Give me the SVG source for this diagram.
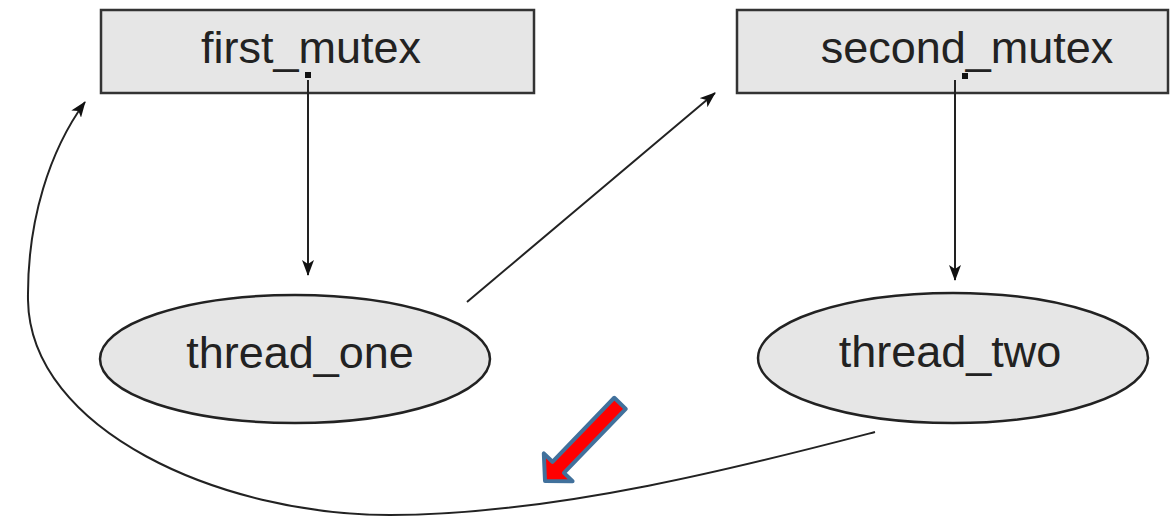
<svg xmlns="http://www.w3.org/2000/svg" width="1174" height="516" viewBox="0 0 1174 516">
  <style>
    .box { fill: #e6e6e6; stroke: #333; stroke-width: 2.5; }
    .oval { fill: #e6e6e6; stroke: #222; stroke-width: 2.5; }
    .label { font-family: "Liberation Sans", Arial, sans-serif; font-size: 45px; fill: #222; text-anchor: middle; }
    .edge { fill: none; stroke: #222; stroke-width: 2; marker-end: url(#head); }
    .pin { fill: #111; }
  </style>
  <defs>
    <marker id="head" viewBox="0 0 16 12" refX="15" refY="6" markerWidth="16" markerHeight="12" markerUnits="userSpaceOnUse" orient="auto">
      <path d="M0,0 L16,6 L0,12 L4,6 Z" fill="#111"/>
    </marker>
  </defs>

  <rect width="1174" height="516" fill="#fff"/>

  <g id="first_mutex">
    <rect class="box" x="101" y="10" width="433" height="83"/>
    <text class="label" x="311" y="63">first_mutex</text>
    <rect class="pin" x="305" y="72" width="6" height="6"/>
  </g>

  <g id="second_mutex">
    <rect class="box" x="737" y="10" width="431" height="83"/>
    <text class="label" x="967" y="63">second_mutex</text>
    <rect class="pin" x="962" y="73" width="6" height="6"/>
  </g>

  <g id="thread_one">
    <ellipse class="oval" cx="295" cy="359" rx="195" ry="64"/>
    <text class="label" x="300" y="368">thread_one</text>
  </g>

  <g id="thread_two">
    <ellipse class="oval" cx="953" cy="358" rx="195" ry="65"/>
    <text class="label" x="950" y="367">thread_two</text>
  </g>

  <g id="connectors">
    <path class="edge" d="M308,80 L308,275"/>
    <path class="edge" d="M955,80 L955,280"/>
    <path class="edge" d="M467,302 L715,93"/>
    <path class="edge" d="M875,432 C760,462 560,515 390,515 C220,515 30,430 28,300 C27,220 50,150 85,102"/>
  </g>

  <g id="pointer">
    <polygon transform="translate(545,481) rotate(134)" points="0,0 -19,-20 -19,-8 -108,-8 -108,8 -19,8 -19,20" fill="#ff0000" stroke="#41719c" stroke-width="4" stroke-linejoin="round"/>
  </g>
</svg>
